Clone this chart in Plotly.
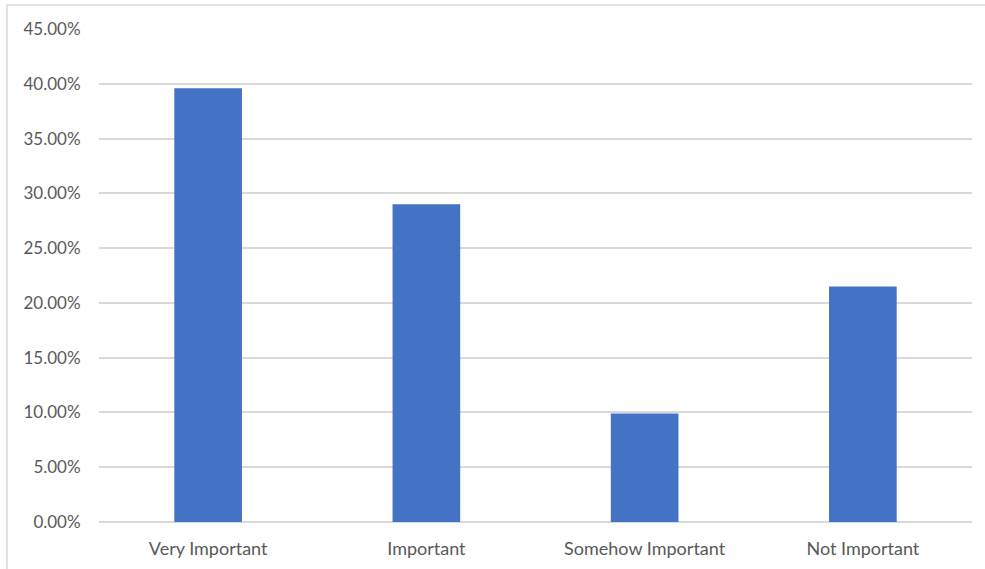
import plotly.graph_objects as go

categories = ["Very Important", "Important", "Somehow Important", "Not Important"]
shares = [0.396, 0.29, 0.099, 0.215]
y_ticks = [0.0, 0.05, 0.10, 0.15, 0.20, 0.25, 0.30, 0.35, 0.40, 0.45]

fig = go.Figure(
    go.Bar(
        x=categories,
        y=shares,
        marker=dict(color="#4472C4", line=dict(width=0)),
        hovertemplate="%{x}: %{y:.2%}<extra></extra>",
    )
)

font_family = "Lato, Liberation Sans, Arial, sans-serif"

fig.update_layout(
    width=985,
    height=569,
    margin=dict(l=99, r=13, t=29, b=47),
    paper_bgcolor="white",
    plot_bgcolor="white",
    bargap=0.69,
    showlegend=False,
    font=dict(family=font_family, size=17, color="#595959"),
)

fig.update_yaxes(
    range=[0, 0.45],
    tickvals=y_ticks,
    tickformat=".2%",
    showgrid=True,
    gridcolor="#d9d9d9",
    gridwidth=1.5,
    zeroline=True,
    zerolinecolor="#d9d9d9",
    zerolinewidth=1.5,
    showline=False,
    ticks="outside",
    ticklen=14,
    tickcolor="rgba(0,0,0,0)",
    tickfont=dict(size=17, color="#595959"),
    automargin=False,
)

fig.update_xaxes(
    showgrid=False,
    showline=False,
    ticks="outside",
    ticklen=10,
    tickcolor="rgba(0,0,0,0)",
    tickfont=dict(size=18, color="#595959"),
    automargin=False,
)

# light chart-area frame around the whole figure
fig.add_shape(
    type="rect",
    xref="paper",
    yref="paper",
    x0=-0.1054,
    x1=1.2,
    y0=-0.3,
    y1=1.0487,
    line=dict(color="#d9d9d9", width=1.5),
    fillcolor="rgba(0,0,0,0)",
    layer="below",
)

fig.write_html("out.html")
